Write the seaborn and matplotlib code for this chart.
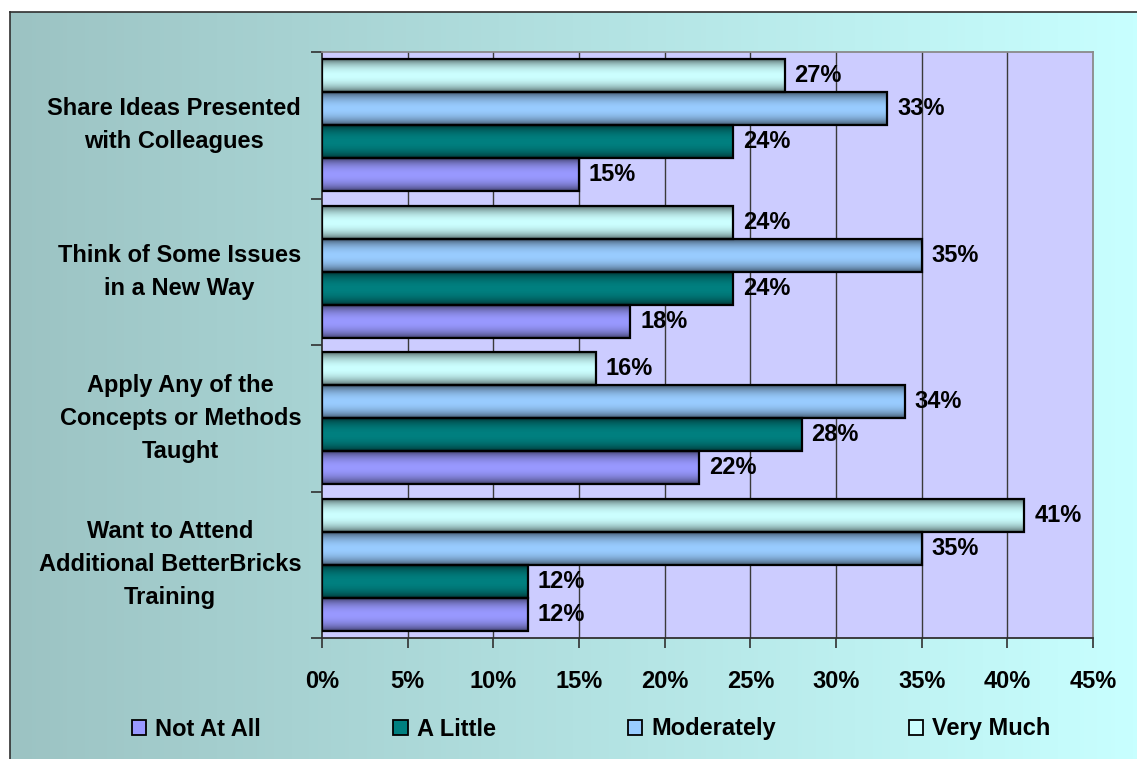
import numpy as np
import pandas as pd
import matplotlib
matplotlib.use("Agg")
import matplotlib.pyplot as plt
import seaborn as sns
from matplotlib.patches import Patch
from matplotlib.colors import to_rgb

# Survey items and response shares (percent)
categories = [
    "Share Ideas Presented\nwith Colleagues",
    "Think of Some Issues\nin a New Way",
    "Apply Any of the\nConcepts or Methods\nTaught",
    "Want to Attend\nAdditional BetterBricks\nTraining",
]
levels = ["Not At All", "A Little", "Moderately", "Very Much"]
not_at_all = [15, 18, 22, 12]
a_little = [24, 24, 28, 12]
moderately = [33, 35, 34, 35]
very_much = [27, 24, 16, 41]
x_ticks = [0, 5, 10, 15, 20, 25, 30, 35, 40, 45]
x_tick_labels = [f"{t}%" for t in x_ticks]

level_colors = {
    "Not At All": "#9999FF",
    "A Little": "#008080",
    "Moderately": "#99CCFF",
    "Very Much": "#CCFFFF",
}

df = pd.DataFrame({
    "item": categories * 4,
    "level": sum([[lv] * len(categories) for lv in levels], []),
    "pct": not_at_all + a_little + moderately + very_much,
})

sns.set_theme(style="white")
plt.rcParams["font.family"] = ["Liberation Sans", "DejaVu Sans"]
plt.rcParams["font.weight"] = "bold"
plt.rcParams["text.color"] = "black"
plt.rcParams["xtick.labelcolor"] = "black"
plt.rcParams["ytick.labelcolor"] = "black"
FS = 17

W, H = 1137, 759
fig = plt.figure(figsize=(W / 100, H / 100), dpi=100)
fig.patch.set_facecolor("white")

# Frame with a left-to-right teal gradient
bg = fig.add_axes([10 / W, 0, 1 - 10 / W, (H - 12) / H], zorder=-1)
left_c = np.array(to_rgb("#9CC3C3"))
right_c = np.array(to_rgb("#C8FFFF"))
t = np.linspace(0, 1, 256)[None, :, None]
bg.imshow(left_c + (right_c - left_c) * t, aspect="auto", extent=(0, 1, 0, 1))
bg.set_xlim(0, 1)
bg.set_ylim(0, 1)
bg.set_xticks([])
bg.set_yticks([])
for side in ["right", "bottom"]:
    bg.spines[side].set_visible(False)
for side in ["left", "top"]:
    bg.spines[side].set_color("#303030")
    bg.spines[side].set_linewidth(1.2)

ax = fig.add_axes([322 / W, 1 - 638 / H, (1093 - 322) / W, (638 - 52) / H])
ax.set_facecolor("#CCCCFF")

sns.barplot(
    data=df, y="item", x="pct", hue="level",
    order=categories, hue_order=levels[::-1],
    palette=level_colors, orient="h", width=0.9, saturation=1,
    edgecolor="black", linewidth=1.6, legend=False, ax=ax, zorder=3,
)

# Shaded (cylinder-like) fill for every bar, plus its value label
ts = np.linspace(0, 1, 96)
shade = 0.33 + 0.67 * np.sin(np.pi * ts) ** 0.6
for patch in list(ax.patches):
    base = np.array(to_rgb(patch.get_facecolor()[:3]))
    x0, y0 = patch.get_x(), patch.get_y()
    w, h = patch.get_width(), patch.get_height()
    grad = (base[None, :] * shade[:, None])[:, None, :]
    im = ax.imshow(grad, extent=(x0, x0 + w, y0 + h, y0), aspect="auto",
                   interpolation="bilinear", zorder=2)
    im.set_clip_path(patch)
    patch.set_facecolor("none")
    ax.annotate(f"{w:.0f}%", (x0 + w, y0 + h / 2), xytext=(7, 0),
                textcoords="offset points", ha="left", va="center",
                fontsize=FS, fontweight="bold", color="black", zorder=5)

ax.set_xlim(0, 45)
ax.set_ylim(3.5, -0.5)
ax.set_aspect("auto")

ax.set_xticks(x_ticks)
ax.set_xticklabels(x_tick_labels, fontsize=FS, fontweight="bold")
ax.set_yticks(range(len(categories)))
ax.set_yticklabels(categories, fontsize=FS, fontweight="bold",
                   multialignment="center", linespacing=1.55, va="center")
ax.set_yticks(np.arange(-0.5, len(categories), 1.0), minor=True)
ax.tick_params(axis="x", which="major", direction="out", length=7, width=1.2,
               color="#303030", pad=16, bottom=True)
ax.tick_params(axis="y", which="major", length=0, pad=15)
ax.tick_params(axis="y", which="minor", direction="out", length=8, width=1.2,
               color="#303030", left=True)

ax.grid(False)
for xv in x_ticks[1:-1]:
    ax.axvline(xv, color="#3A3A3A", linewidth=1.0, zorder=1)

ax.set_xlabel("")
ax.set_ylabel("")
for side in ["left", "bottom"]:
    ax.spines[side].set_color("#303030")
    ax.spines[side].set_linewidth(1.3)
for side in ["right", "top"]:
    ax.spines[side].set_color("#8A8A8A")
    ax.spines[side].set_linewidth(1.3)

handles = [Patch(facecolor=level_colors[lv], edgecolor="black", linewidth=1.3)
           for lv in levels]
fig.legend(handles, levels, loc="center", bbox_to_anchor=(0.52, 1 - 729 / H),
           ncol=4, frameon=False, handlelength=0.6, handleheight=0.6,
           handletextpad=0.4, columnspacing=5.6,
           prop={"size": FS, "weight": "bold"})

fig.savefig("out.png", dpi=100, facecolor=fig.get_facecolor())
